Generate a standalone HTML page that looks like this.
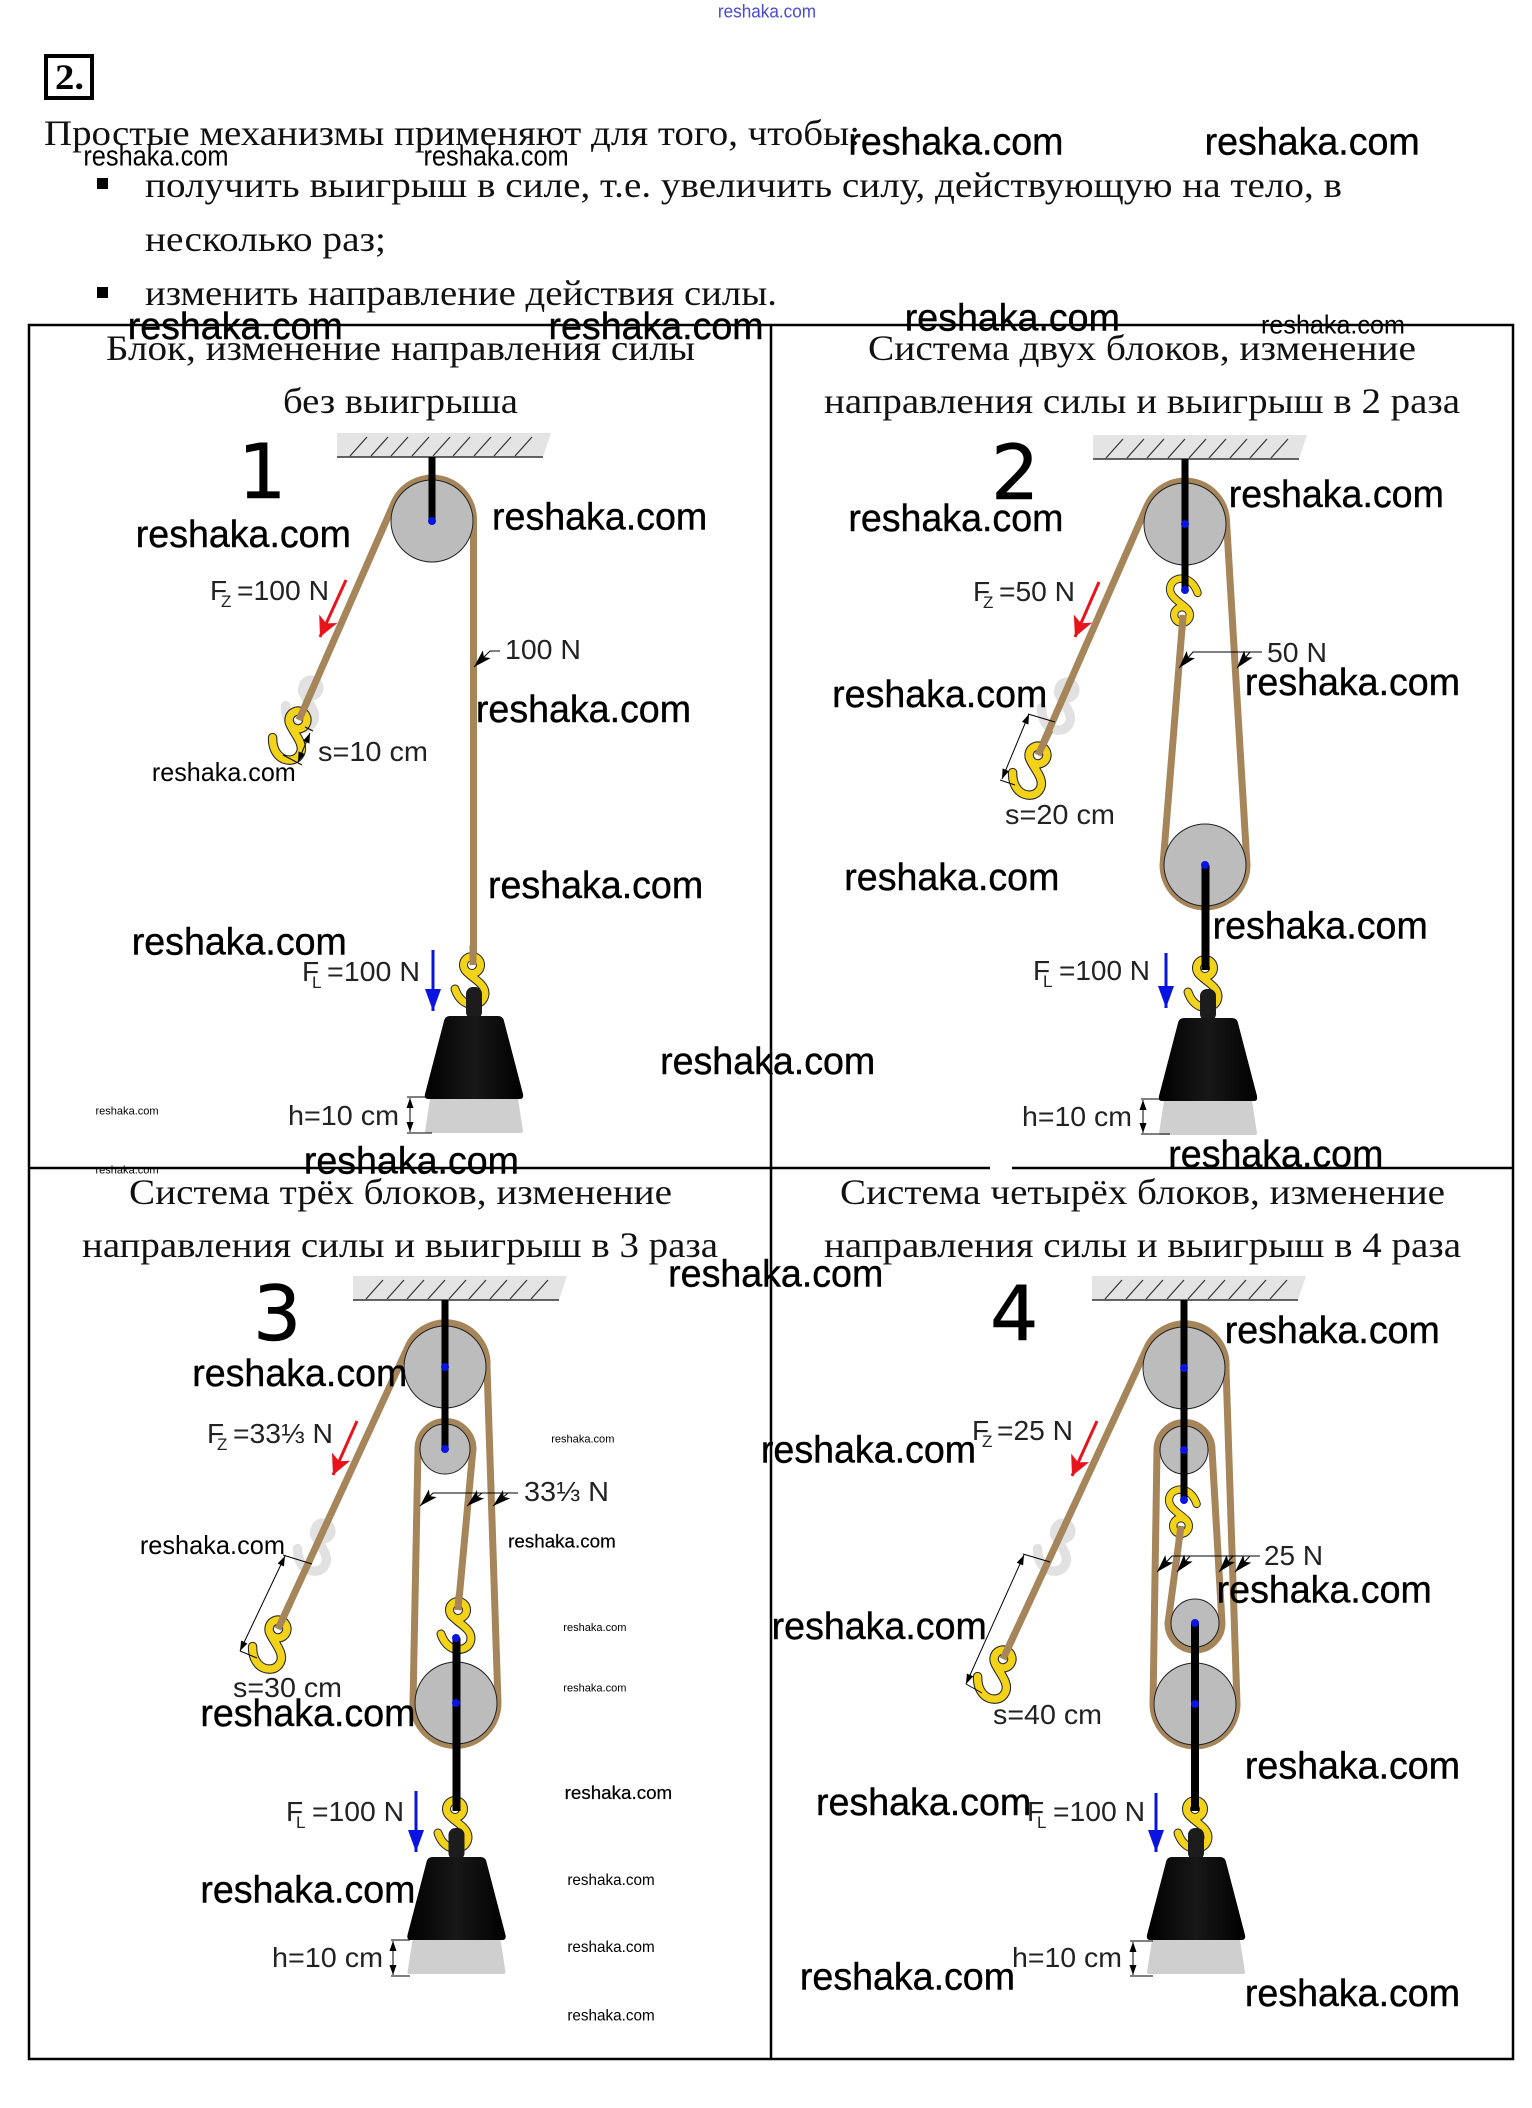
<!DOCTYPE html>
<html lang="ru"><head><meta charset="utf-8"><title>Простые механизмы</title>
<style>
html,body{margin:0;padding:0;background:#fff}
svg{display:block}
.s{font-family:"Liberation Serif","DejaVu Serif",serif;font-size:36px;fill:#111}
.l{font-family:"Liberation Sans","DejaVu Sans",sans-serif;font-size:28px;fill:#222}
.sub{font-size:17px}
.n{font-family:"DejaVu Sans","Liberation Sans",sans-serif;font-size:76px;fill:#000;stroke:#000;stroke-width:.6px}
.w text{font-family:"Liberation Sans","DejaVu Sans",sans-serif;fill:#000}
.b{font-size:28px;stroke:#000;stroke-width:.3px}
.m{font-size:19px}.c{font-size:21px}.t{font-size:14px;stroke:#000;stroke-width:.15px}.u{font-size:11.5px}.v{font-size:8.5px}
</style></head><body>
<svg width="1532" height="2108" viewBox="0 0 1532 2108">
<defs>
<linearGradient id="gw" x1="0" x2="1" y1="0" y2="0"><stop offset="0" stop-color="#000"/><stop offset=".5" stop-color="#181818"/><stop offset="1" stop-color="#000"/></linearGradient>
<marker id="mr" markerUnits="userSpaceOnUse" markerWidth="24" markerHeight="22" refX="20" refY="10" orient="auto"><path d="M0 0L20 10L0 20L5 10Z" fill="#e8141c"/></marker>
<marker id="mb" markerUnits="userSpaceOnUse" markerWidth="26" markerHeight="20" refX="22" refY="8" orient="auto"><path d="M0 0L22 8L0 16Z" fill="#0a14e0"/></marker>
<marker id="mk" markerUnits="userSpaceOnUse" markerWidth="20" markerHeight="12" refX="18" refY="5.5" orient="auto"><path d="M0 0L18 5.5L0 11L4 5.5Z" fill="#000"/></marker>
<marker id="md" markerUnits="userSpaceOnUse" markerWidth="12" markerHeight="8" refX="10" refY="3.5" orient="auto-start-reverse"><path d="M0 0L10 3.5L0 7Z" fill="#000"/></marker>
<g id="hook" fill="none" stroke-linecap="round">
<g stroke="#222" stroke-width="9"><circle r="8.5"/><path d="M-7 5C-2 12 13 18 13 28C13 38 2 42-6 38C-12 35-15 30-17 24"/></g>
<g stroke="#f3d21a" stroke-width="7"><circle r="8.5"/><path d="M-7 5C-2 12 13 18 13 28C13 38 2 42-6 38C-12 35-15 30-17 24"/></g>
</g>
<g id="ghost" fill="none" stroke-linecap="round" opacity=".75">
<circle r="9" fill="#d8d8d8" stroke="#d8d8d8" stroke-width="6"/>
<path d="M-7 5C-2 12 13 18 13 28C13 38 2 42-6 38C-12 35-15 30-17 24" stroke="#d8d8d8" stroke-width="9"/>
</g>
<g id="weight">
<path d="M-44 83L-49 115Q-49 117-47 117H47Q49 117 49 115L44 83Z" fill="#cfcfcf"/>
<rect x="-8" y="-29" width="16" height="32" rx="7" fill="#1c1c1c"/>
<path d="M-24 0Q-29 0-30 5L-49 78Q-50 83-46 83H46Q50 83 49 78L30 5Q29 0 24 0Z" fill="url(#gw)"/>
</g>
<g id="ceil">
<path d="M0 0H214L206 24H0Z" fill="#e4e4e4"/>
<path d="M0 24H206" stroke="#333" stroke-width="1.4"/>
<path d="M13 23L30 4M34 23L51 4M54 23L71 4M75 23L92 4M96 23L113 4M116 23L133 4M137 23L154 4M157 23L174 4M178 23L195 4" stroke="#333" stroke-width="1.2"/>
</g>
</defs>
<rect width="1532" height="2108" fill="#fff"/>

<!-- intro -->
<rect x="46" y="56" width="46" height="42" fill="#fff" stroke="#000" stroke-width="4"/>
<text x="55" y="89" style="font-family:'Liberation Serif',serif;font-size:36px;font-weight:bold" textLength="29" lengthAdjust="spacingAndGlyphs">2.</text>
<text class="s" x="44" y="145" textLength="816" lengthAdjust="spacingAndGlyphs">Простые механизмы применяют для того, чтобы:</text>
<rect x="97" y="178" width="11" height="11"/>
<text class="s" x="145" y="197" textLength="1197" lengthAdjust="spacingAndGlyphs">получить выигрыш в силе, т.е. увеличить силу, действующую на тело, в</text>
<text class="s" x="145" y="251" textLength="241" lengthAdjust="spacingAndGlyphs">несколько раз;</text>
<rect x="97" y="287" width="11" height="11"/>
<text class="s" x="145" y="305" textLength="632" lengthAdjust="spacingAndGlyphs">изменить направление действия силы.</text>

<!-- table -->
<g stroke="#000" stroke-width="2.5" fill="none">
<rect x="29" y="325" width="1484" height="1734"/>
<path d="M771 325V2059M29 1168H1513"/>
</g>
<rect x="990" y="1156" width="22" height="16" fill="#fff"/>

<text class="s" x="106" y="360" textLength="589" lengthAdjust="spacingAndGlyphs">Блок, изменение направления силы</text>
<text class="s" x="283" y="413" textLength="235" lengthAdjust="spacingAndGlyphs">без выигрыша</text>
<text class="s" x="868" y="360" textLength="548" lengthAdjust="spacingAndGlyphs">Система двух блоков, изменение</text>
<text class="s" x="824" y="413" textLength="636" lengthAdjust="spacingAndGlyphs">направления силы и выигрыш в 2 раза</text>
<text class="s" x="129" y="1204" textLength="543" lengthAdjust="spacingAndGlyphs">Система трёх блоков, изменение</text>
<text class="s" x="82" y="1257" textLength="636" lengthAdjust="spacingAndGlyphs">направления силы и выигрыш в 3 раза</text>
<text class="s" x="840" y="1204" textLength="605" lengthAdjust="spacingAndGlyphs">Система четырёх блоков, изменение</text>
<text class="s" x="824" y="1257" textLength="637" lengthAdjust="spacingAndGlyphs">направления силы и выигрыш в 4 раза</text>

<text class="n" x="238" y="498">1</text>
<text class="n" x="991" y="499">2</text>
<text class="n" x="253" y="1340">3</text>
<text class="n" x="990" y="1340">4</text>

<!-- PANEL 1 -->
<use href="#ceil" x="337" y="433"/>
<use href="#ghost" transform="translate(311 688) rotate(20) scale(1.05)"/>
<path d="M299 720L394 503A41.5 41.5 0 0 1 473.5 521V965" fill="none" stroke="#a58559" stroke-width="7"/>
<circle cx="432" cy="521" r="41" fill="#bcbcbc" stroke="#222" stroke-width="1"/>
<rect x="428.5" y="457" width="7" height="64"/>
<circle cx="432" cy="521" r="4" fill="#0a14e0"/>
<use href="#hook" transform="translate(298 720) rotate(20) scale(1.05)"/>
<path d="M299 720L312 690" stroke="#a58559" stroke-width="7"/>
<use href="#hook" x="472" y="965"/>
<path d="M473 945V965" stroke="#a58559" stroke-width="7"/>
<use href="#weight" x="474" y="1016"/>
<path d="M346 580L320 637" stroke="#e8141c" stroke-width="3" fill="none" marker-end="url(#mr)"/>
<path d="M433 950V1011" stroke="#0a14e0" stroke-width="3" fill="none" marker-end="url(#mb)"/>
<path d="M500 651H490L474 667" stroke="#000" stroke-width="1" fill="none" marker-end="url(#mk)"/>
<g stroke="#000" stroke-width="1" fill="none">
<path d="M305 727L313 731M283 755L302 765M407 1097H432M407 1133H432"/>
<path d="M310 733L298 762" marker-start="url(#md)" marker-end="url(#md)"/>
<path d="M410 1098V1132" marker-start="url(#md)" marker-end="url(#md)"/>
</g>
<text class="l" x="210" y="600">F</text><text class="l sub" x="221" y="607">Z</text><text class="l" x="237" y="600" textLength="92" lengthAdjust="spacingAndGlyphs">=100 N</text>
<text class="l" x="505" y="659" textLength="76" lengthAdjust="spacingAndGlyphs">100 N</text>
<text class="l" x="318" y="761" textLength="110" lengthAdjust="spacingAndGlyphs">s=10 cm</text>
<text class="l" x="302" y="981">F</text><text class="l sub" x="312" y="988">L</text><text class="l" x="327" y="981" textLength="93" lengthAdjust="spacingAndGlyphs">=100 N</text>
<text class="l" x="288" y="1125" textLength="111" lengthAdjust="spacingAndGlyphs">h=10 cm</text>

<!-- PANEL 2 -->
<use href="#ceil" x="1093" y="435"/>
<use href="#ghost" transform="translate(1067 690) rotate(20) scale(1.05)"/>
<path d="M1038 755L1147 506A41.5 41.5 0 0 1 1226.5 521L1247 865A42 42 0 0 1 1163 865L1183 616" fill="none" stroke="#a58559" stroke-width="7"/>
<circle cx="1185" cy="524" r="41" fill="#bcbcbc" stroke="#222" stroke-width="1"/>
<circle cx="1205" cy="865" r="41" fill="#bcbcbc" stroke="#222" stroke-width="1"/>
<use href="#hook" transform="translate(1182 615) rotate(180) scale(.92)"/>
<path d="M1182 630L1183 615" stroke="#a58559" stroke-width="7"/>
<rect x="1181.5" y="459" width="7" height="131"/>
<rect x="1201.5" y="865" width="8" height="105"/>
<circle cx="1185" cy="524" r="4" fill="#0a14e0"/><circle cx="1185" cy="590" r="4" fill="#0a14e0"/><circle cx="1205" cy="865" r="4" fill="#0a14e0"/>
<use href="#hook" transform="translate(1038 755) rotate(20) scale(1.05)"/>
<path d="M1038 755L1050 730" stroke="#a58559" stroke-width="7"/>
<use href="#hook" x="1205" y="968"/>
<rect x="1201.5" y="950" width="8" height="20"/>
<use href="#weight" x="1208" y="1018"/>
<path d="M1099 582L1075 637" stroke="#e8141c" stroke-width="3" fill="none" marker-end="url(#mr)"/>
<path d="M1166 953V1008" stroke="#0a14e0" stroke-width="3" fill="none" marker-end="url(#mb)"/>
<g stroke="#000" stroke-width="1" fill="none">
<path d="M1262 652H1193L1179 668" marker-end="url(#mk)"/>
<path d="M1250 652L1237 668" marker-end="url(#mk)"/>
<path d="M1028 714L1055 722M1000 780L1015 785M1141 1099H1170M1141 1134H1170"/>
<path d="M1029 714L1002 779" marker-start="url(#md)" marker-end="url(#md)"/>
<path d="M1143 1100V1133" marker-start="url(#md)" marker-end="url(#md)"/>
</g>
<text class="l" x="973" y="601">F</text><text class="l sub" x="983" y="608">Z</text><text class="l" x="999" y="601" textLength="76" lengthAdjust="spacingAndGlyphs">=50 N</text>
<text class="l" x="1267" y="662" textLength="60" lengthAdjust="spacingAndGlyphs">50 N</text>
<text class="l" x="1005" y="824" textLength="110" lengthAdjust="spacingAndGlyphs">s=20 cm</text>
<text class="l" x="1033" y="980">F</text><text class="l sub" x="1043" y="987">L</text><text class="l" x="1059" y="980" textLength="91" lengthAdjust="spacingAndGlyphs">=100 N</text>
<text class="l" x="1022" y="1126" textLength="110" lengthAdjust="spacingAndGlyphs">h=10 cm</text>

<!-- PANEL 3 -->
<use href="#ceil" x="353" y="1276"/>
<use href="#ghost" transform="translate(323 1531) rotate(20) scale(1.05)"/>
<path d="M278 1629L407 1349A41.5 41.5 0 0 1 487 1367L498 1703A42.5 42.5 0 0 1 413 1703L418 1449A27.5 27.5 0 0 1 473 1449L458 1610" fill="none" stroke="#a58559" stroke-width="7"/>
<circle cx="445" cy="1367" r="41" fill="#bcbcbc" stroke="#222" stroke-width="1"/>
<circle cx="445" cy="1449" r="25" fill="#bcbcbc" stroke="#222" stroke-width="1"/>
<circle cx="456" cy="1703" r="41" fill="#bcbcbc" stroke="#222" stroke-width="1"/>
<use href="#hook" x="458" y="1610"/>
<path d="M459 1595L458 1610" stroke="#a58559" stroke-width="7"/>
<rect x="441.5" y="1300" width="7" height="149"/>
<rect x="452.5" y="1638" width="8" height="172"/>
<circle cx="445" cy="1367" r="4" fill="#0a14e0"/><circle cx="445" cy="1449" r="4" fill="#0a14e0"/><circle cx="456" cy="1638" r="4" fill="#0a14e0"/><circle cx="456" cy="1703" r="4" fill="#0a14e0"/>
<use href="#hook" transform="translate(278 1629) rotate(20) scale(1.05)"/>
<path d="M278 1629L290 1603" stroke="#a58559" stroke-width="7"/>
<use href="#hook" x="455" y="1809"/>
<rect x="452.5" y="1795" width="8" height="16"/>
<use href="#weight" x="456.5" y="1857"/>
<path d="M357 1421L333 1475" stroke="#e8141c" stroke-width="3" fill="none" marker-end="url(#mr)"/>
<path d="M416 1791V1852" stroke="#0a14e0" stroke-width="3" fill="none" marker-end="url(#mb)"/>
<g stroke="#000" stroke-width="1" fill="none">
<path d="M518 1493H433L420 1506" marker-end="url(#mk)"/>
<path d="M482 1493L467 1506" marker-end="url(#mk)"/>
<path d="M508 1493L493 1506" marker-end="url(#mk)"/>
<path d="M283 1555L312 1564M240 1651L257 1658M391 1940H410M391 1976H410"/>
<path d="M285 1556L240 1651" marker-start="url(#md)" marker-end="url(#md)"/>
<path d="M393 1941V1975" marker-start="url(#md)" marker-end="url(#md)"/>
</g>
<text class="l" x="207" y="1443">F</text><text class="l sub" x="217" y="1450">Z</text><text class="l" x="233" y="1443" textLength="100" lengthAdjust="spacingAndGlyphs">=33⅓ N</text>
<text class="l" x="524" y="1501" textLength="85" lengthAdjust="spacingAndGlyphs">33⅓ N</text>
<text class="l" x="233" y="1697" textLength="109" lengthAdjust="spacingAndGlyphs">s=30 cm</text>
<text class="l" x="286" y="1821">F</text><text class="l sub" x="296" y="1828">L</text><text class="l" x="312" y="1821" textLength="92" lengthAdjust="spacingAndGlyphs">=100 N</text>
<text class="l" x="272" y="1967" textLength="111" lengthAdjust="spacingAndGlyphs">h=10 cm</text>

<!-- PANEL 4 -->
<use href="#ceil" x="1092" y="1276"/>
<use href="#ghost" transform="translate(1063 1531) rotate(20) scale(1.05)"/>
<path d="M1003 1659L1146 1350A41.5 41.5 0 0 1 1226 1368L1237 1704A42 42 0 0 1 1153 1704L1157 1450A27.5 27.5 0 0 1 1212 1450L1222 1623A27 27 0 0 1 1168 1623L1181 1526" fill="none" stroke="#a58559" stroke-width="7"/>
<circle cx="1184" cy="1368" r="41" fill="#bcbcbc" stroke="#222" stroke-width="1"/>
<circle cx="1184" cy="1450" r="24" fill="#bcbcbc" stroke="#222" stroke-width="1"/>
<circle cx="1195" cy="1623" r="24" fill="#bcbcbc" stroke="#222" stroke-width="1"/>
<circle cx="1195" cy="1704" r="41" fill="#bcbcbc" stroke="#222" stroke-width="1"/>
<use href="#hook" transform="translate(1181 1526) rotate(180) scale(.92)"/>
<path d="M1179 1540L1181 1526" stroke="#a58559" stroke-width="7"/>
<rect x="1180.5" y="1300" width="7" height="200"/>
<rect x="1191" y="1623" width="8" height="187"/>
<circle cx="1184" cy="1368" r="4" fill="#0a14e0"/><circle cx="1184" cy="1450" r="4" fill="#0a14e0"/><circle cx="1184" cy="1500" r="4" fill="#0a14e0"/><circle cx="1195" cy="1623" r="4" fill="#0a14e0"/><circle cx="1195" cy="1704" r="4" fill="#0a14e0"/>
<use href="#hook" transform="translate(1003 1659) rotate(20) scale(1.05)"/>
<path d="M1003 1659L1015 1633" stroke="#a58559" stroke-width="7"/>
<use href="#hook" x="1195" y="1809"/>
<rect x="1191" y="1795" width="8" height="16"/>
<use href="#weight" x="1196" y="1857"/>
<path d="M1097 1421L1072 1476" stroke="#e8141c" stroke-width="3" fill="none" marker-end="url(#mr)"/>
<path d="M1156 1793V1852" stroke="#0a14e0" stroke-width="3" fill="none" marker-end="url(#mb)"/>
<g stroke="#000" stroke-width="1" fill="none">
<path d="M1260 1556H1172L1157 1572" marker-end="url(#mk)"/>
<path d="M1190 1556L1177 1572" marker-end="url(#mk)"/>
<path d="M1233 1556L1219 1572" marker-end="url(#mk)"/>
<path d="M1250 1556L1235 1572" marker-end="url(#mk)"/>
<path d="M1023 1554L1050 1562M966 1684L982 1693M1130 1941H1153M1130 1976H1153"/>
<path d="M1024 1555L966 1684" marker-start="url(#md)" marker-end="url(#md)"/>
<path d="M1133 1942V1975" marker-start="url(#md)" marker-end="url(#md)"/>
</g>
<text class="l" x="972" y="1440">F</text><text class="l sub" x="982" y="1447">Z</text><text class="l" x="997" y="1440" textLength="76" lengthAdjust="spacingAndGlyphs">=25 N</text>
<text class="l" x="1264" y="1565" textLength="59" lengthAdjust="spacingAndGlyphs">25 N</text>
<text class="l" x="993" y="1724" textLength="109" lengthAdjust="spacingAndGlyphs">s=40 cm</text>
<text class="l" x="1027" y="1821">F</text><text class="l sub" x="1037" y="1828">L</text><text class="l" x="1053" y="1821" textLength="92" lengthAdjust="spacingAndGlyphs">=100 N</text>
<text class="l" x="1012" y="1967" textLength="110" lengthAdjust="spacingAndGlyphs">h=10 cm</text>

<!-- WATERMARKS -->
<g class="w" transform="scale(1.3444)">
<text x="534" y="13" style="font-size:14px;fill:#4a4ad8" textLength="73" lengthAdjust="spacingAndGlyphs">reshaka.com</text>
<text class="c" x="62" y="123" textLength="108" lengthAdjust="spacingAndGlyphs">reshaka.com</text>
<text class="c" x="315" y="123" textLength="108" lengthAdjust="spacingAndGlyphs">reshaka.com</text>
<text class="b" x="631" y="115" textLength="160" lengthAdjust="spacingAndGlyphs">reshaka.com</text>
<text class="b" x="896" y="115" textLength="160" lengthAdjust="spacingAndGlyphs">reshaka.com</text>
<text class="b" x="95" y="252" textLength="160" lengthAdjust="spacingAndGlyphs">reshaka.com</text>
<text class="b" x="408" y="252" textLength="160" lengthAdjust="spacingAndGlyphs">reshaka.com</text>
<text class="b" x="673" y="246" textLength="160" lengthAdjust="spacingAndGlyphs">reshaka.com</text>
<text class="m" x="938" y="248" textLength="107" lengthAdjust="spacingAndGlyphs">reshaka.com</text>
<text class="b" x="101" y="407" textLength="160" lengthAdjust="spacingAndGlyphs">reshaka.com</text>
<text class="b" x="366" y="394" textLength="160" lengthAdjust="spacingAndGlyphs">reshaka.com</text>
<text class="b" x="631" y="395" textLength="160" lengthAdjust="spacingAndGlyphs">reshaka.com</text>
<text class="b" x="914" y="377" textLength="160" lengthAdjust="spacingAndGlyphs">reshaka.com</text>
<text class="b" x="354" y="537" textLength="160" lengthAdjust="spacingAndGlyphs">reshaka.com</text>
<text class="m" x="113" y="581" textLength="107" lengthAdjust="spacingAndGlyphs">reshaka.com</text>
<text class="b" x="619" y="526" textLength="160" lengthAdjust="spacingAndGlyphs">reshaka.com</text>
<text class="b" x="926" y="517" textLength="160" lengthAdjust="spacingAndGlyphs">reshaka.com</text>
<text class="b" x="363" y="668" textLength="160" lengthAdjust="spacingAndGlyphs">reshaka.com</text>
<text class="b" x="628" y="662" textLength="160" lengthAdjust="spacingAndGlyphs">reshaka.com</text>
<text class="b" x="98" y="710" textLength="160" lengthAdjust="spacingAndGlyphs">reshaka.com</text>
<text class="b" x="902" y="698" textLength="160" lengthAdjust="spacingAndGlyphs">reshaka.com</text>
<text class="b" x="491" y="799" textLength="160" lengthAdjust="spacingAndGlyphs">reshaka.com</text>
<text class="v" x="71" y="829" textLength="47" lengthAdjust="spacingAndGlyphs">reshaka.com</text>
<text class="b" x="226" y="873" textLength="160" lengthAdjust="spacingAndGlyphs">reshaka.com</text>
<text class="b" x="869" y="868" textLength="160" lengthAdjust="spacingAndGlyphs">reshaka.com</text>
<text class="v" x="71" y="873" textLength="47" lengthAdjust="spacingAndGlyphs">reshaka.com</text>
<text class="b" x="497" y="957" textLength="160" lengthAdjust="spacingAndGlyphs">reshaka.com</text>
<text class="b" x="143" y="1031" textLength="160" lengthAdjust="spacingAndGlyphs">reshaka.com</text>
<text class="b" x="911" y="999" textLength="160" lengthAdjust="spacingAndGlyphs">reshaka.com</text>
<text class="b" x="566" y="1088" textLength="160" lengthAdjust="spacingAndGlyphs">reshaka.com</text>
<text class="v" x="410" y="1073" textLength="47" lengthAdjust="spacingAndGlyphs">reshaka.com</text>
<text class="m" x="104" y="1156" textLength="108" lengthAdjust="spacingAndGlyphs">reshaka.com</text>
<text class="t" x="378" y="1151" textLength="80" lengthAdjust="spacingAndGlyphs">reshaka.com</text>
<text class="b" x="574" y="1219" textLength="160" lengthAdjust="spacingAndGlyphs">reshaka.com</text>
<text class="b" x="905" y="1192" textLength="160" lengthAdjust="spacingAndGlyphs">reshaka.com</text>
<text class="v" x="419" y="1213" textLength="47" lengthAdjust="spacingAndGlyphs">reshaka.com</text>
<text class="v" x="419" y="1258" textLength="47" lengthAdjust="spacingAndGlyphs">reshaka.com</text>
<text class="b" x="149" y="1284" textLength="160" lengthAdjust="spacingAndGlyphs">reshaka.com</text>
<text class="b" x="926" y="1323" textLength="160" lengthAdjust="spacingAndGlyphs">reshaka.com</text>
<text class="t" x="420" y="1338" textLength="80" lengthAdjust="spacingAndGlyphs">reshaka.com</text>
<text class="b" x="607" y="1350" textLength="160" lengthAdjust="spacingAndGlyphs">reshaka.com</text>
<text class="b" x="149" y="1415" textLength="160" lengthAdjust="spacingAndGlyphs">reshaka.com</text>
<text class="u" x="422" y="1402" textLength="65" lengthAdjust="spacingAndGlyphs">reshaka.com</text>
<text class="u" x="422" y="1452" textLength="65" lengthAdjust="spacingAndGlyphs">reshaka.com</text>
<text class="u" x="422" y="1503" textLength="65" lengthAdjust="spacingAndGlyphs">reshaka.com</text>
<text class="b" x="595" y="1480" textLength="160" lengthAdjust="spacingAndGlyphs">reshaka.com</text>
<text class="b" x="926" y="1492" textLength="160" lengthAdjust="spacingAndGlyphs">reshaka.com</text>
</g>
</svg>
</body></html>
